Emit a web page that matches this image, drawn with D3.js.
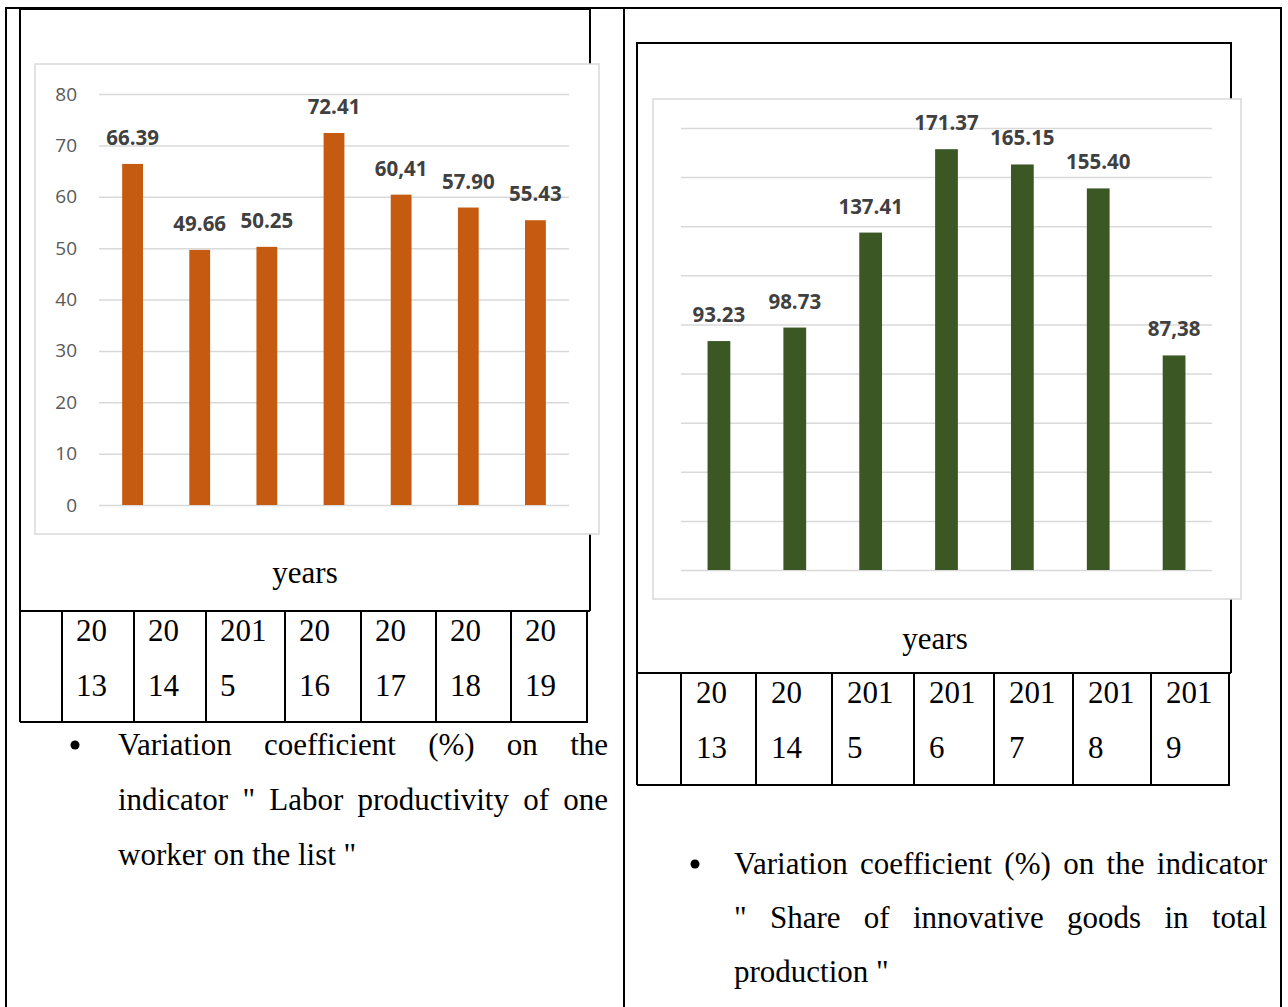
<!DOCTYPE html>
<html>
<head>
<meta charset="utf-8">
<script src="https://cdn.jsdelivr.net/npm/d3@7"></script>
<style>
  body { margin: 0; background: #fff; }
  svg { display: block; }
</style>
</head>
<body>
<div id="page"></div>
<script>

// CHART DATA
var years = ["2013", "2014", "2015", "2016", "2017", "2018", "2019"];

var labourValues = [66.39, 49.66, 50.25, 72.41, 60.41, 57.90, 55.43];
var labourLabels = ["66.39", "49.66", "50.25", "72.41", "60,41", "57.90", "55.43"];
var labourTicks = [0, 10, 20, 30, 40, 50, 60, 70, 80];

var innovValues = [93.23, 98.73, 137.41, 171.37, 165.15, 155.40, 87.38];
var innovLabels = ["93.23", "98.73", "137.41", "171.37", "165.15", "155.40", "87,38"];
var innovTicks = [0, 20, 40, 60, 80, 100, 120, 140, 160, 180];

// year cells of the tables under the charts (text wraps inside narrow cells)
var labourYearCells = [["20", "13"], ["20", "14"], ["201", "5"], ["20", "16"], ["20", "17"], ["20", "18"], ["20", "19"]];
var innovYearCells = [["20", "13"], ["20", "14"], ["201", "5"], ["201", "6"], ["201", "7"], ["201", "8"], ["201", "9"]];

var labourCaption = ["Variation coefficient (%) on the",
                     "indicator \" Labor productivity of one",
                     "worker on the list \""];
var innovCaption = ["Variation coefficient (%) on the indicator",
                    "\" Share of innovative goods in total",
                    "production \""];

// PAGE
var W = 1288, H = 1007;
var svg = d3.select("#page").append("svg")
    .attr("width", W)
    .attr("height", H);

// times-like text of the word document
function serif(sel) {
  return sel.style("font-family", "'Liberation Serif', 'Times New Roman', serif")
            .style("font-size", "31px")
            .style("fill", "#000");
}

// outer word table
function line(x1, y1, x2, y2, w) {
  svg.append("line")
      .attr("x1", x1).attr("y1", y1)
      .attr("x2", x2).attr("y2", y2)
      .style("stroke", "#000")
      .style("stroke-width", w || 2);
}
line(5, 8, 1282, 8);
line(6, 7, 6, H + 2);
line(624, 7, 624, H + 2);
line(1281, 7, 1281, H + 2);

// ONE PANEL = black frame, excel chart box, year table, caption
function drawPanel(p) {

  // black frame round the chart and the table
  svg.append("path")
      .attr("d", "M" + p.frame.x0 + "," + p.table.bottom +
                 "L" + p.frame.x0 + "," + p.frame.y0 +
                 "L" + p.frame.x1 + "," + p.frame.y0 +
                 "L" + p.frame.x1 + "," + p.table.top)
      .style("fill", "none")
      .style("stroke", "#000")
      .style("stroke-width", 2);
  line(p.frame.x0, p.table.top, p.frame.x1, p.table.top);

  // chart box
  svg.append("rect")
      .attr("x", p.box.x).attr("y", p.box.y)
      .attr("width", p.box.w).attr("height", p.box.h)
      .style("fill", "#fff")
      .style("stroke", "#d9d9d9")
      .style("stroke-width", 1.5);

  // scales
  var x = d3.scaleBand()
            .domain(years)
            .range([p.plot.x0, p.plot.x1])
            .paddingInner(p.gap)
            .paddingOuter(p.gap / 2);
  var y = d3.scaleLinear()
            .domain([0, d3.max(p.ticks)])
            .range([p.plot.yBase, p.plot.yTop]);

  // y axis with gridlines
  var axis = svg.append("g")
      .attr("transform", "translate(" + p.plot.x0 + ",0)")
      .call(d3.axisLeft(y)
              .tickValues(p.ticks)
              .tickSize(-(p.plot.x1 - p.plot.x0))
              .tickPadding(22)
              .tickFormat(p.showTicks ? d3.format("d") : function() { return ""; }));
  axis.select(".domain").remove();
  axis.selectAll(".tick line")
      .style("stroke", "#d9d9d9")
      .style("stroke-width", 1.5);
  axis.selectAll(".tick text")
      .style("font-family", "'Open Sans', sans-serif")
      .style("font-size", "19px")
      .style("fill", "#595959");

  // bars
  svg.selectAll(".bar-" + p.id)
      .data(p.values)
      .enter().append("rect")
      .attr("class", "bar-" + p.id)
      .attr("x", function(d, i) { return x(years[i]); })
      .attr("width", x.bandwidth())
      .attr("y", function(d) { return y(d); })
      .attr("height", function(d) { return y(0) - y(d); })
      .style("fill", p.color);

  // data labels
  svg.selectAll(".lab-" + p.id)
      .data(p.values)
      .enter().append("text")
      .attr("class", "lab-" + p.id)
      .attr("x", function(d, i) { return x(years[i]) + x.bandwidth() / 2; })
      .attr("y", function(d) { return y(d) - 19; })
      .attr("text-anchor", "middle")
      .style("font-family", "'Open Sans', sans-serif")
      .style("font-weight", "bold")
      .style("font-size", "20.5px")
      .style("fill", "#404040")
      .text(function(d, i) { return p.labels[i]; });

  // axis title
  svg.append("text")
      .call(serif)
      .attr("x", p.title.x)
      .attr("y", p.title.y)
      .attr("text-anchor", "middle")
      .text("years");

  // year table
  p.table.cols.forEach(function(cx) { line(cx, p.table.top, cx, p.table.bottom); });
  line(p.frame.x0, p.table.bottom, p.table.cols[p.table.cols.length - 1] + 1, p.table.bottom);
  p.cells.forEach(function(cell, i) {
    cell.forEach(function(t, k) {
      svg.append("text")
          .call(serif)
          .attr("x", p.table.cols[i] + p.table.pad)
          .attr("y", p.table.top + 30 + k * 55)
          .text(t);
    });
  });

  // caption with bullet, justified like the word text
  var c = p.caption;
  svg.append("circle")
      .attr("cx", c.bulletX)
      .attr("cy", c.baselines[0] - 10)
      .attr("r", 4.5)
      .style("fill", "#000");
  c.lines.forEach(function(txt, i) {
    var words = txt.split(" ");
    var nodes = words.map(function(w) {
      return svg.append("text")
          .call(serif)
          .attr("y", c.baselines[i])
          .text(w);
    });
    var widths = nodes.map(function(n) { return n.node().getComputedTextLength(); });
    var gap = c.justify[i] ? (c.x1 - c.x0 - d3.sum(widths)) / (words.length - 1) : 31 * 0.25;
    var xx = c.x0;
    nodes.forEach(function(n, j) {
      n.attr("x", xx);
      xx += widths[j] + gap;
    });
  });
}

// LEFT PANEL
drawPanel({
  id: "labour",
  values: labourValues,
  labels: labourLabels,
  ticks: labourTicks,
  showTicks: true,
  color: "#c55a11",
  gap: 0.69,
  frame: {x0: 20, y0: 9, x1: 590},
  box: {x: 35, y: 64, w: 564, h: 470},
  plot: {x0: 99, x1: 569, yBase: 505, yTop: 94},
  title: {x: 305, y: 583},
  table: {top: 611, bottom: 722, pad: 14, cols: [62, 134, 206, 285, 361, 436, 511, 587]},
  cells: labourYearCells,
  caption: {lines: labourCaption, bulletX: 75, x0: 118, x1: 608,
            baselines: [755, 810, 865], justify: [true, true, false]}
});

// RIGHT PANEL
drawPanel({
  id: "innov",
  values: innovValues,
  labels: innovLabels,
  ticks: innovTicks,
  showTicks: false,
  color: "#3a5724",
  gap: 0.70,
  frame: {x0: 637, y0: 43, x1: 1231},
  box: {x: 653, y: 99, w: 588, h: 500},
  plot: {x0: 681, x1: 1212, yBase: 570, yTop: 128},
  title: {x: 935, y: 649},
  table: {top: 673, bottom: 785, pad: 15, cols: [681, 756, 832, 914, 994, 1073, 1151, 1229]},
  cells: innovYearCells,
  caption: {lines: innovCaption, bulletX: 695, x0: 734, x1: 1267,
            baselines: [874, 928, 982], justify: [true, true, false]}
});

</script>
</body>
</html>
